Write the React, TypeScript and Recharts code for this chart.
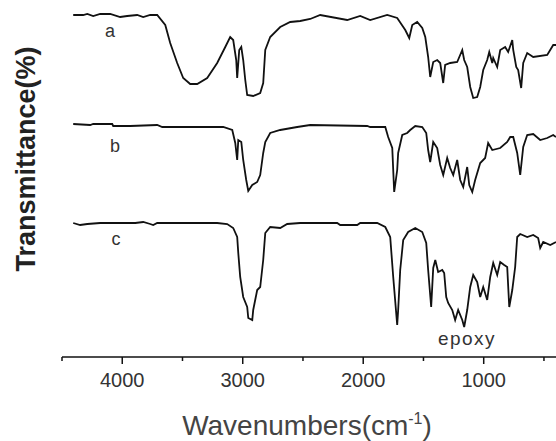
import React from "react";
import { LineChart, Line, XAxis, YAxis, Customized } from "recharts";

// wavenumber (cm-1) / transmittance pairs (traces offset)
const waveA = [
  4407, 4324, 4290, 4241, 4183, 4100, 4017, 3959, 3876, 3826, 3768, 3710,
  3643, 3602, 3544, 3494, 3436, 3378, 3295, 3212, 3145, 3104, 3079, 3054,
  3046, 3029, 3012, 2996, 2979, 2963, 2913, 2855, 2830, 2813, 2772, 2689,
  2606, 2523, 2440, 2357, 2133, 2025, 1942, 1801, 1718, 1651, 1618, 1593,
  1552, 1510, 1485, 1461, 1444, 1419, 1386, 1361, 1336, 1320, 1278, 1220,
  1178, 1162, 1137, 1112, 1087, 1054, 1029, 1004, 971, 954, 929, 921, 888,
  863, 822, 797, 763, 755, 730, 714, 689, 672, 639, 589, 473, 423, 400,
];
const transA = [
  342, 342, 343, 341, 343, 343, 340, 341, 342, 340, 342, 342,
  332, 314, 294, 279, 273, 273, 279, 294, 310, 320, 317, 297,
  279, 307, 310, 297, 277, 262, 261, 264, 274, 307, 320, 330,
  335, 336, 338, 342, 337, 341, 337, 342, 339, 327, 319, 332,
  335, 329, 320, 300, 280, 295, 297, 294, 274, 292, 294, 295,
  307, 297, 290, 270, 259, 260, 270, 287, 297, 305, 294, 299, 290,
  307, 310, 305, 317, 307, 290, 287, 269, 294, 304, 300, 302, 312, 312,
];

const waveB = [
  4407, 4266, 4241, 4083, 4075, 3934, 3710, 3668, 3544, 3378, 3162,
  3087, 3062, 3046, 3037, 3012, 2996, 2971, 2954, 2921, 2880, 2855, 2830,
  2813, 2772, 2689, 2548, 2440, 1967, 1942, 1817, 1793, 1759, 1743, 1718,
  1710, 1676, 1635, 1610, 1568, 1510, 1477, 1461, 1444, 1419, 1386, 1361,
  1336, 1303, 1278, 1253, 1220, 1195, 1170, 1137, 1120, 1095, 1071, 1029,
  988, 963, 929, 863, 805, 780, 755, 722, 697, 672, 639, 589, 531, 473,
  423, 400,
];
const transB = [
  233, 232, 233, 233, 231, 231, 232, 230, 230, 230, 230,
  227, 214, 197, 217, 215, 197, 177, 166, 172, 175, 182, 204,
  215, 224, 227, 230, 232, 231, 230, 230, 220, 209, 165, 187,
  204, 222, 224, 227, 231, 230, 224, 207, 195, 215, 209, 192,
  182, 199, 189, 182, 197, 177, 170, 190, 172, 165, 177, 194,
  199, 214, 207, 209, 215, 220, 220, 204, 182, 210, 222, 223, 217, 219,
  222, 220,
];

const waveC = [
  4407, 4349, 4290, 4183, 4017, 3892, 3826, 3768, 3743, 3710, 3685, 3212,
  3129, 3079, 3046, 3037, 3021, 2996, 2963, 2954, 2921, 2913, 2880, 2855,
  2830, 2813, 2772, 2689, 2631, 2523, 2216, 2191, 2050, 2025, 1884, 1817,
  1776, 1751, 1718, 1710, 1693, 1668, 1627, 1568, 1510, 1477, 1461, 1436,
  1419, 1402, 1378, 1344, 1328, 1311, 1295, 1261, 1237, 1212, 1178, 1162,
  1137, 1112, 1087, 1054, 1029, 1004, 971, 946, 921, 888, 863, 830, 805,
  788, 763, 739, 722, 697, 639, 589, 548, 531, 506, 448, 400,
];
const transC = [
  134, 132, 133, 134, 134, 134, 135, 133, 132, 134, 134, 134,
  133, 129, 120, 104, 80, 60, 50, 39, 37, 47, 67, 70,
  97, 124, 130, 129, 133, 134, 134, 132, 132, 134, 134, 130,
  120, 80, 32, 47, 87, 117, 125, 129, 125, 114, 87, 50,
  89, 97, 85, 87, 84, 60, 54, 47, 37, 47, 37, 30,
  47, 70, 82, 75, 60, 70, 57, 80, 94, 82, 95, 92, 90,
  50, 67, 90, 120, 123, 120, 122, 119, 109, 115, 112, 115,
];

const xTicks = [4500, 4000, 3500, 3000, 2500, 2000, 1500, 1000, 500];

const toPoints = (w: number[], t: number[]) => w.map((v, i) => ({ w: v, t: t[i] }));

const seriesA = toPoints(waveA, transA);
const seriesB = toPoints(waveB, transB);
const seriesC = toPoints(waveC, transC);

const FONT = "'Liberation Sans', Arial, sans-serif";

const Tick = (props: any) => {
  const { x, y, payload } = props;
  const major = payload.value % 1000 === 0;
  return (
    <g>
      <line x1={x} x2={x} y1={y} y2={y + (major ? 7 : 4)} stroke="#111" strokeWidth={1.5} />
      {major && (
        <text x={x} y={y + 30} textAnchor="middle" fontSize={20} fill="#333" fontFamily={FONT}>
          {payload.value}
        </text>
      )}
    </g>
  );
};

const Annotations = () => (
  <g fontFamily={FONT} fill="#333">
    <text x={110} y={37} fontSize={18} textAnchor="middle">a</text>
    <text x={115} y={152} fontSize={18} textAnchor="middle">b</text>
    <text x={116} y={245} fontSize={18} textAnchor="middle">c</text>
    <text x={467} y={345} fontSize={19} letterSpacing={1.5} textAnchor="middle">epoxy</text>
    <text x={307} y={435} fontSize={28} textAnchor="middle" fill="#444">
      Wavenumbers(cm
      <tspan fontSize={16} dy={-11}>-1</tspan>
      <tspan dy={11}>)</tspan>
    </text>
    <text
      x={35}
      y={159}
      fontSize={27}
      fontWeight="bold"
      textAnchor="middle"
      fill="#222"
      transform="rotate(-90, 35, 159)"
    >
      Transmittance(%)
    </text>
  </g>
);

export default function App() {
  return (
    <div style={{ position: "absolute", left: 0, top: 0, background: "#fff" }}>
      <LineChart width={556} height={441} margin={{ top: 7, right: 0, bottom: 0, left: 62 }}>
        <XAxis
          type="number"
          dataKey="w"
          domain={[400, 4500]}
          reversed
          allowDataOverflow
          ticks={xTicks}
          tick={<Tick />}
          tickLine={false}
          tickSize={0}
          tickMargin={0}
          height={84}
          axisLine={{ stroke: "#111", strokeWidth: 1.5 }}
          interval={0}
        />
        <YAxis type="number" domain={[0, 350]} hide allowDataOverflow />
        <Line data={seriesA} dataKey="t" stroke="#111" strokeWidth={1.8} dot={false} isAnimationActive={false} />
        <Line data={seriesB} dataKey="t" stroke="#111" strokeWidth={1.8} dot={false} isAnimationActive={false} />
        <Line data={seriesC} dataKey="t" stroke="#111" strokeWidth={1.8} dot={false} isAnimationActive={false} />
        <Customized component={<Annotations />} />
      </LineChart>
    </div>
  );
}
